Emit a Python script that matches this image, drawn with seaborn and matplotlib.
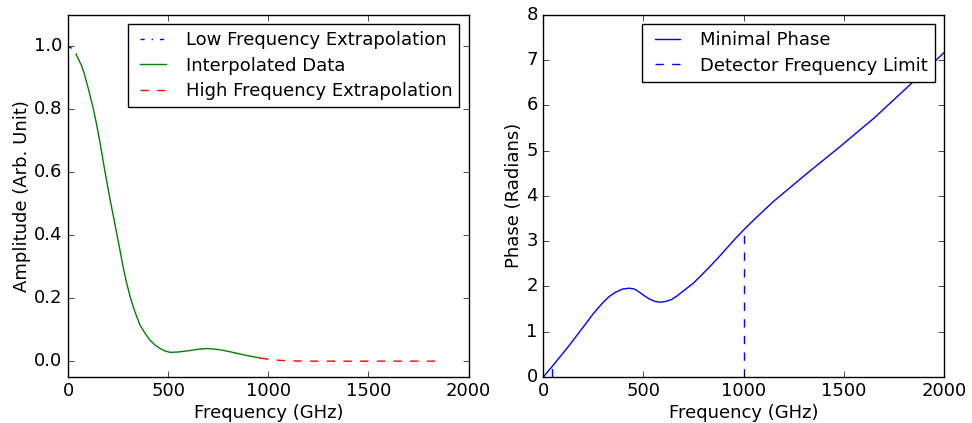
import matplotlib
matplotlib.use("Agg")
import matplotlib.pyplot as plt
import seaborn as sns

# ---------------- data ----------------
low_freq = [0, 20, 40]
low_amp = [1.0, 0.993, 0.975]

interp_freq = [40, 68, 80, 102, 127, 140, 157, 170, 185, 195, 210, 228, 245, 260, 275, 292,
               312, 335, 360, 385, 410, 435, 460, 485, 510, 550, 600, 650, 700, 750, 800,
               850, 900, 960]
interp_amp = [0.975, 0.938, 0.915, 0.864, 0.80, 0.76, 0.704, 0.655, 0.60, 0.565, 0.513,
              0.455, 0.40, 0.35, 0.30, 0.25, 0.20, 0.155, 0.114, 0.088, 0.066, 0.051,
              0.04, 0.032, 0.028, 0.029, 0.033, 0.038, 0.04, 0.037, 0.031, 0.024, 0.017,
              0.01]

high_freq = [960, 1000, 1050, 1100, 1200, 1300, 1400, 1500, 1600, 1700, 1800, 1870]
high_amp = [0.01, 0.006, 0.003, 0.001, 0.0, 0.0, 0.0, 0.0, 0.0, 0.0, 0.0, 0.0]

phase_freq = [0, 40, 90, 130, 180, 211, 250, 295, 330, 360, 395, 430, 455, 480, 505, 530,
              555, 584, 610, 640, 665, 705, 749, 790, 832, 875, 917, 960, 1003, 1068, 1150,
              1318, 1485, 1652, 1830, 2000]
phase_val = [0.0, 0.21, 0.48, 0.70, 0.99, 1.17, 1.40, 1.63, 1.78, 1.87, 1.94, 1.96, 1.94,
             1.87, 1.79, 1.72, 1.67, 1.65, 1.665, 1.71, 1.78, 1.92, 2.07, 2.25, 2.44, 2.64,
             2.85, 3.06, 3.26, 3.54, 3.88, 4.5, 5.1, 5.72, 6.45, 7.16]

limit_freq = [43, 1000]
limit_phase = [0.2, 3.26]

# ---------------- plot ----------------
plt.style.use("classic")
plt.rcParams["font.family"] = ["DejaVu Sans"]
plt.rcParams["font.size"] = 13
plt.rcParams["axes.labelpad"] = 2.5

fig = plt.figure(figsize=(9.72, 4.23), dpi=100, facecolor="white")
ax1 = fig.add_axes([0.070, 0.109, 0.412, 0.856])
ax2 = fig.add_axes([0.559, 0.109, 0.412, 0.856])

sns.lineplot(x=low_freq, y=low_amp, ax=ax1, color="b", linestyle="-.",
             estimator=None, sort=False, label="Low Frequency Extrapolation")
sns.lineplot(x=interp_freq, y=interp_amp, ax=ax1, color="g", linestyle="-",
             estimator=None, sort=False, label="Interpolated Data")
sns.lineplot(x=high_freq, y=high_amp, ax=ax1, color="r", linestyle="--",
             estimator=None, sort=False, label="High Frequency Extrapolation")
ax1.set_xlim(0, 2000)
ax1.set_ylim(-0.05, 1.1)
ax1.set_yticks([0.0, 0.2, 0.4, 0.6, 0.8, 1.0])
ax1.set_xticks([0, 500, 1000, 1500, 2000])
ax1.set_xlabel("Frequency (GHz)")
ax1.set_ylabel("Amplitude (Arb. Unit)")
ax1.legend(loc="upper right", fontsize=13, labelspacing=0.42)

sns.lineplot(x=phase_freq, y=phase_val, ax=ax2, color="b", linestyle="-",
             estimator=None, sort=False, label="Minimal Phase")
for i, (f, p) in enumerate(zip(limit_freq, limit_phase)):
    sns.lineplot(x=[f, f], y=[0, p], ax=ax2, color="b", linestyle="--",
                 estimator=None, sort=False,
                 label="Detector Frequency Limit" if i == 1 else None)
ax2.set_xlim(0, 2000)
ax2.set_ylim(0, 8)
ax2.set_xticks([0, 500, 1000, 1500, 2000])
ax2.set_xlabel("Frequency (GHz)")
ax2.set_ylabel("Phase (Radians)")
ax2.legend(loc="upper right", fontsize=13, labelspacing=0.42)

fig.savefig("out.png", dpi=100, facecolor="white")
